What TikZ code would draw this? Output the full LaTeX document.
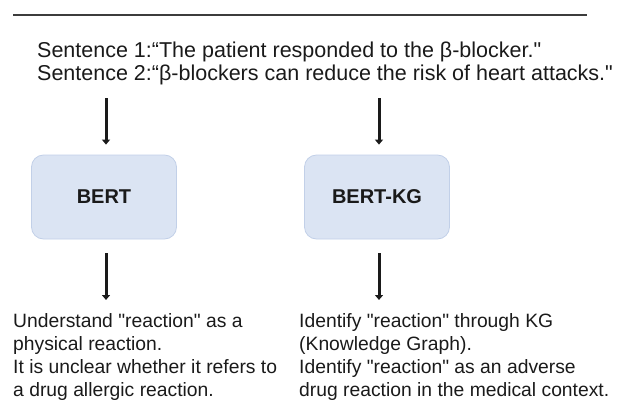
\documentclass[tikz,border=0pt]{standalone}
\usepackage{fontspec}
\setmainfont{Liberation Sans}[Ligatures=TeXOff]
\usetikzlibrary{arrows.meta,positioning}
\def\wRule{2pt}
\def\wArrow{3pt}
\definecolor{cBox}{HTML}{DBE4F3}
\definecolor{cBoxLine}{HTML}{C2D0E8}
\definecolor{cInk}{HTML}{1A1A1A}
\tikzset{
  fig/.style={every node/.style={inner sep=0pt, text=cInk}},
  txt/.style={align=left, anchor=north west},
  big/.style={txt, font=\fontsize{21.5}{23}\selectfont},
  small/.style={txt, font=\fontsize{19.3}{23}\selectfont},
  model/.style={draw=cBoxLine, line width=0.8pt, rounded corners=12pt, fill=cBox,
    minimum width=145pt, minimum height=84pt, font=\fontsize{20}{22}\selectfont\bfseries},
  flow/.style={draw=cInk, line width=\wArrow, -{Triangle[length=5pt, width=8pt]}},
}

\begin{document}
\begin{tikzpicture}[fig, x=1pt, y=-1pt]
\useasboundingbox (0,0) rectangle (620,407);
% ---- rule at the top
\coordinate (ruleL) at (13,15);
\coordinate (ruleR) at (587,15);
\draw[cInk!85, line width=\wRule] (ruleL) -- (ruleR);

% ---- input sentences
\node[big] (sent) at (37,41.5) {Sentence 1:“The patient responded to the β-blocker."\\
  Sentence 2:“β-blockers can reduce the risk of heart attacks."};

% ---- the two models
\node[model] (bert) at (104,197) {BERT};
\node[model] (bertkg) at (377,197) {BERT-KG};

% ---- what each model reads
\node[small] (outA) at (13,313) {Understand "reaction" as a\\ physical reaction.\\ It is unclear whether it refers to\\ a drug allergic reaction.};
\node[small] (outB) at (299,313) {Identify "reaction" through KG\\ (Knowledge Graph).\\ Identify "reaction" as an adverse\\ drug reaction in the medical context.};

% ---- arrows
\coordinate (inA) at ([xshift=2pt]bert.north |- 0,98);
\coordinate (inB) at ([xshift=2pt]bertkg.north |- 0,98);
\draw[flow] (inA) -- ([yshift=10pt]inA |- bert.north);
\draw[flow] (inB) -- ([yshift=10pt]inB |- bertkg.north);
\draw[flow] ([yshift=-14pt]inA |- bert.south) -- ([yshift=13pt]inA |- outA.north);
\draw[flow] ([yshift=-14pt]inB |- bertkg.south) -- ([yshift=13pt]inB |- outB.north);
\end{tikzpicture}
\end{document}
